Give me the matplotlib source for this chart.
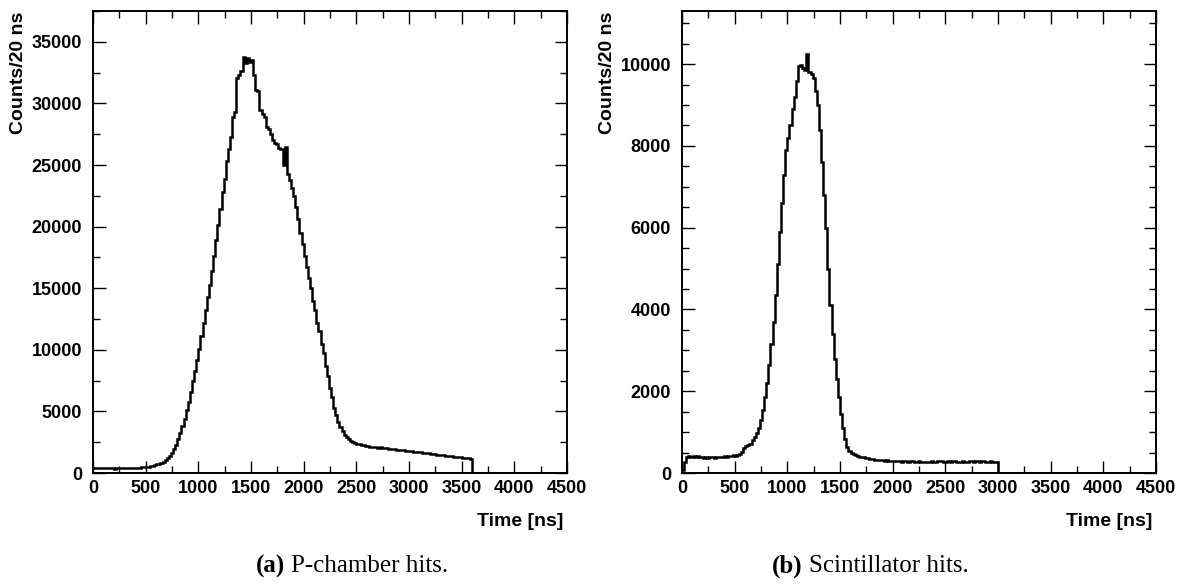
"""Arrival-time histograms for P-chamber and scintillator hits."""

import matplotlib

matplotlib.use("Agg")
import matplotlib.pyplot as plt
import numpy as np
from matplotlib.ticker import MultipleLocator

plt.rcParams.update({
    "font.family": ["Liberation Sans", "DejaVu Sans"],
    "font.weight": "bold",
    "xtick.direction": "in",
    "ytick.direction": "in",
    "xtick.top": True,
    "ytick.right": True,
})

BIN_WIDTH_NS = 20
X_MAX_NS = 4500

# counts per 20 ns bin, starting at t = 0
pchamber_counts = [
    420, 400, 390, 395, 380, 385, 370, 375, 380, 370,
    365, 375, 380, 370, 385, 390, 380, 395, 400, 390,
    410, 420, 430, 450, 470, 490, 520, 550, 590, 640,
    700, 760, 830, 930, 1050, 1200, 1400, 1650, 1950, 2300,
    2750, 3250, 3800, 4400, 5100, 5800, 6600, 7500, 8300, 9200,
    10100, 11100, 12200, 13200, 14300, 15300, 16400, 17600, 18900, 20100,
    21400, 22800, 23900, 25300, 26300, 27300, 28900, 29300, 32100, 32300,
    32600, 33800, 33300, 33700, 33400, 33500, 32300, 31100, 31000, 29500,
    29100, 28900, 28100, 27900, 27500, 27000, 26800, 26700, 26400, 26300,
    25000, 26500, 24300, 23800, 23100, 22500, 21600, 20600, 19500, 18600,
    17600, 16700, 15800, 15000, 14000, 13200, 12200, 11500, 10500, 9700,
    8700, 7900, 6900, 6200, 5300, 4700, 4100, 3700, 3400, 3100,
    2900, 2750, 2600, 2500, 2450, 2380, 2330, 2290, 2250, 2200,
    2180, 2150, 2120, 2110, 2090, 2060, 2070, 2030, 2010, 2000,
    1980, 1950, 1960, 1920, 1900, 1880, 1860, 1850, 1820, 1800,
    1790, 1760, 1740, 1720, 1700, 1680, 1660, 1640, 1620, 1600,
    1570, 1550, 1530, 1500, 1480, 1460, 1440, 1420, 1390, 1370,
    1350, 1330, 1310, 1290, 1270, 1250, 1230, 1210, 1190, 1170,
]

scint_counts = [
    80, 260, 390, 410, 400, 420, 395, 405, 380, 390,
    370, 385, 375, 400, 380, 365, 380, 395, 385, 400,
    410, 395, 420, 410, 430, 420, 440, 470, 520, 600,
    650, 680, 720, 800, 880, 980, 1100, 1300, 1550, 1850,
    2200, 2650, 3150, 3700, 4350, 5100, 5900, 6600, 7300, 7900,
    8200, 8500, 8900, 9200, 9600, 9950, 9980, 9900, 9850, 10250,
    9800, 9750, 9650, 9350, 9000, 8400, 7600, 6800, 6000, 5000,
    4100, 3400, 2800, 2300, 1850, 1450, 1100, 830, 640, 540,
    490, 470, 450, 420, 400, 390, 380, 370, 360, 340,
    350, 330, 320, 325, 310, 315, 300, 310, 295, 300,
    290, 305, 285, 295, 280, 300, 290, 275, 290, 285,
    270, 280, 290, 275, 265, 280, 270, 260, 285, 275,
    265, 290, 300, 285, 270, 280, 295, 270, 285, 300,
    280, 265, 275, 290, 270, 280, 295, 285, 270, 300,
    290, 275, 285, 295, 270, 280, 290, 275, 265, 270,
]

panels = [
    {"counts": pchamber_counts, "ymax": 37500, "major": 5000, "minor": 2500,
     "tag": "(a)", "caption": "P-chamber hits."},
    {"counts": scint_counts, "ymax": 11300, "major": 2000, "minor": 500,
     "tag": "(b)", "caption": "Scintillator hits."},
]

W, H = 1182, 586
fig = plt.figure(figsize=(W / 100, H / 100), dpi=100)

ax_left_px = [93, 682]
ax_w_px, ax_top_px, ax_bottom_px = 474, 11, 473
ylabel_x_px = [19, 608]
tag_x_px = [285, 803]

edges = np.arange(0, X_MAX_NS + BIN_WIDTH_NS, BIN_WIDTH_NS)

for i, p in enumerate(panels):
    ax = fig.add_axes([
        ax_left_px[i] / W,
        (H - ax_bottom_px) / H,
        ax_w_px / W,
        (ax_bottom_px - ax_top_px) / H,
    ])
    counts = np.zeros(len(edges) - 1)
    counts[: len(p["counts"])] = p["counts"]
    ax.stairs(counts, edges, baseline=None, color="black", linewidth=1.8)

    ax.set_xlim(0, X_MAX_NS)
    ax.set_ylim(0, p["ymax"])
    ax.xaxis.set_major_locator(MultipleLocator(500))
    ax.xaxis.set_minor_locator(MultipleLocator(250))
    ax.yaxis.set_major_locator(MultipleLocator(p["major"]))
    ax.yaxis.set_minor_locator(MultipleLocator(p["minor"]))
    ax.tick_params(which="major", length=9, width=1.0, labelsize=13)
    ax.tick_params(which="minor", length=5, width=1.0)
    ax.tick_params(axis="y", which="major", pad=8)
    ax.tick_params(axis="x", which="major", pad=5)
    for lab in ax.get_xticklabels() + ax.get_yticklabels():
        lab.set_fontweight("bold")
    for spine in ax.spines.values():
        spine.set_linewidth(1.4)

    right = (ax_left_px[i] + ax_w_px - 4) / W
    fig.text(right, 1 - 522 / H, "Time [ns]", ha="right", va="center",
             fontsize=14, fontweight="bold")
    fig.text(ylabel_x_px[i] / W, 1 - 12 / H, "Counts/20 ns", rotation=90,
             ha="center", va="top", fontsize=14, fontweight="bold")

    fig.text(tag_x_px[i] / W, 1 - 566 / H, p["tag"], ha="right", va="center",
             fontsize=18, fontweight="bold", family="Liberation Serif")
    fig.text((tag_x_px[i] + 6) / W, 1 - 566 / H, p["caption"], ha="left",
             va="center", fontsize=18, fontweight="normal",
             family="Liberation Serif")

fig.savefig("out.png", dpi=100)
